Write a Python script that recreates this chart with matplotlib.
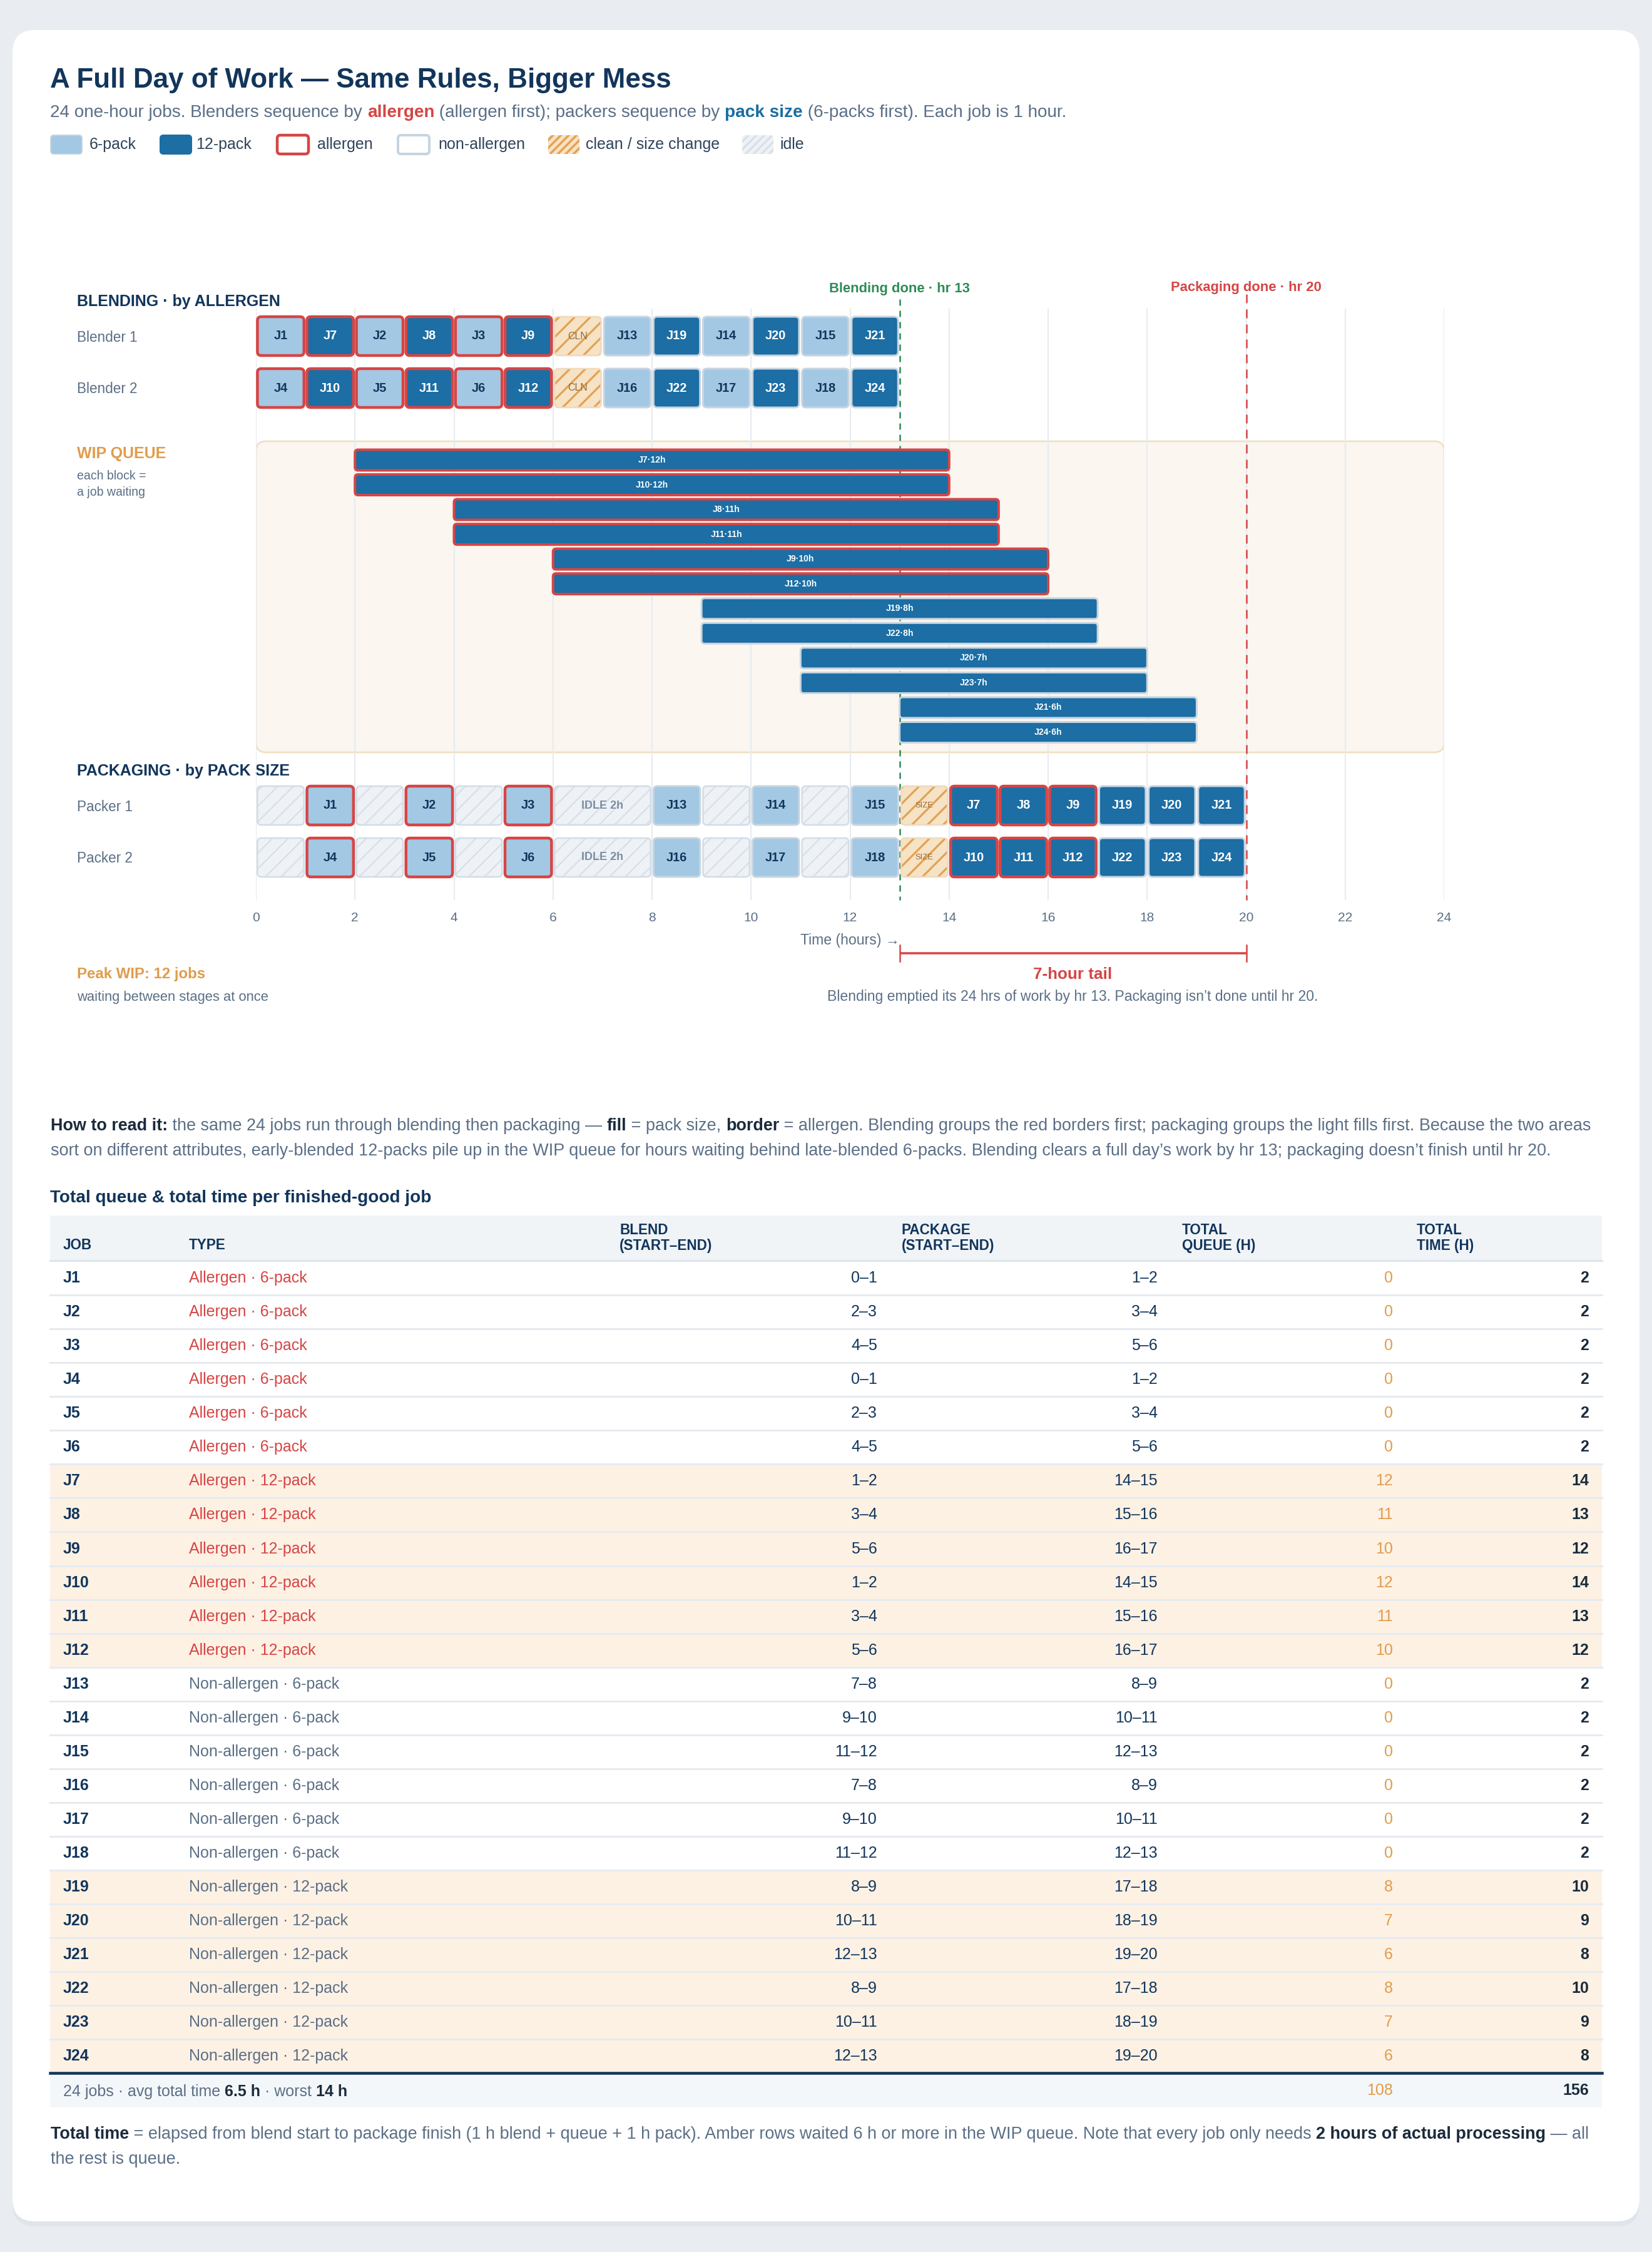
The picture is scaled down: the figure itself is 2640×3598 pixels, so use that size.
import matplotlib
matplotlib.use("Agg")
import matplotlib.pyplot as plt
from matplotlib.patches import FancyBboxPatch, Rectangle

plt.rcParams['font.family'] = ['Liberation Sans', 'DejaVu Sans']
plt.rcParams['lines.scale_dashes'] = False
plt.rcParams['hatch.linewidth'] = 1.2

# ---------------- data ----------------
jobs = ["J1", "J2", "J3", "J4", "J5", "J6", "J7", "J8", "J9", "J10", "J11", "J12",
        "J13", "J14", "J15", "J16", "J17", "J18", "J19", "J20", "J21", "J22", "J23", "J24"]
is_allergen = [True, True, True, True, True, True, True, True, True, True, True, True,
               False, False, False, False, False, False, False, False, False, False, False, False]
pack_size = [6, 6, 6, 6, 6, 6, 12, 12, 12, 12, 12, 12,
             6, 6, 6, 6, 6, 6, 12, 12, 12, 12, 12, 12]
line_no = [1, 1, 1, 2, 2, 2, 1, 1, 1, 2, 2, 2,
           1, 1, 1, 2, 2, 2, 1, 1, 1, 2, 2, 2]
blend_start = [0, 2, 4, 0, 2, 4, 1, 3, 5, 1, 3, 5,
               7, 9, 11, 7, 9, 11, 8, 10, 12, 8, 10, 12]
pack_start = [1, 3, 5, 1, 3, 5, 14, 15, 16, 14, 15, 16,
              8, 10, 12, 8, 10, 12, 17, 18, 19, 17, 18, 19]
queue_hours = [0, 0, 0, 0, 0, 0, 12, 11, 10, 12, 11, 10,
               0, 0, 0, 0, 0, 0, 8, 7, 6, 8, 7, 6]
total_hours = [2, 2, 2, 2, 2, 2, 14, 13, 12, 14, 13, 12,
               2, 2, 2, 2, 2, 2, 10, 9, 8, 10, 9, 8]

blend_clean_start = [6]
blend_clean_hours = [1]
pack_change_start = [13]
pack_change_hours = [1]
idle_start = [0, 2, 4, 6, 9, 11]
idle_hours = [1, 1, 1, 2, 1, 1]
wip_order = ["J7", "J10", "J8", "J11", "J9", "J12", "J19", "J22", "J20", "J23", "J21", "J24"]
blend_done_hr = 13
pack_done_hr = 20
x_ticks = [0, 2, 4, 6, 8, 10, 12, 14, 16, 18, 20, 22, 24]
peak_wip = 12

# ---------------- style ----------------
W, H, DPI = 2640, 3598, 150
def P(px):
    return px * 72.0 / DPI

NAVY = "#12355b"
DARK = "#1b2b3c"
GREY = "#5b6f86"
RED = "#d64545"
BLUE_D = "#1c6ea4"
BLUE_L = "#a3c8e4"
ORANGE = "#e09c4c"
GREEN = "#2e8b57"
EDGE = "#c8d5e1"
IDLE_FC = "#eef2f6"
IDLE_HATCH = "#d6dee7"
IDLE_EDGE = "#d3dce5"
CLN_FC = "#f6e2c4"
CLN_HATCH = "#e3a052"
CLN_EDGE = "#efdbbb"
AMBER_ROW = "#fdf1e4"

fig = plt.figure(figsize=(W / DPI, H / DPI), dpi=DPI)
fig.patch.set_facecolor("#e9edf1")
bg = fig.add_axes([0, 0, 1, 1])
bg.set_xlim(0, W)
bg.set_ylim(H, 0)
bg.axis("off")
renderer = fig.canvas.get_renderer()

# card
bg.add_patch(FancyBboxPatch((20, 56), 2600, 3501, boxstyle="round,pad=0,rounding_size=36",
                            fc="#dce2e8", ec="none", alpha=0.7, zorder=0))
bg.add_patch(FancyBboxPatch((20, 48), 2600, 3501, boxstyle="round,pad=0,rounding_size=36",
                            fc="white", ec="none", zorder=0.5))


def T(x, y, s, size, color, weight="normal", ha="left", va="center", ax=None, **kw):
    a = ax if ax is not None else bg
    return a.text(x, y, s, fontsize=P(size), color=color, fontweight=weight, ha=ha, va=va, **kw)


def adv(s, size, weight):
    t = bg.text(0, 0, s + "|", fontsize=P(size), fontweight=weight)
    w1 = t.get_window_extent(renderer).width
    t.set_text("|")
    w2 = t.get_window_extent(renderer).width
    t.remove()
    return w1 - w2


def rich_width(pieces, size):
    return sum(adv(s, size, w) for s, c, w in pieces)


def rich(x, yc, pieces, size):
    base = yc + 0.36 * size
    for s, c, w in pieces:
        bg.text(x, base, s, fontsize=P(size), color=c, fontweight=w, ha="left", va="baseline", zorder=5)
        x += adv(s, size, w)


def fit(pieces, size, target):
    return size * target / rich_width(pieces, size)


def set_hlw(p, lw):
    if hasattr(p, "set_hatch_linewidth"):
        try:
            p.set_hatch_linewidth(lw)
        except Exception:
            pass
    return p


# ---------------- header ----------------
title = [("A Full Day of Work — Same Rules, Bigger Mess", NAVY, "bold")]
rich(80, 124, title, fit(title, 39, 993))
sub = [("24 one-hour jobs. Blenders sequence by ", GREY, "normal"), ("allergen", RED, "bold"),
       (" (allergen first); packers sequence by ", GREY, "normal"), ("pack size", BLUE_D, "bold"),
       (" (6-packs first). Each job is 1 hour.", GREY, "normal")]
rich(80, 177, sub, fit(sub, 25, 1631))

# legend
def legend_swatch(x, fc, ec, lw, hatch=None, hc=None, hlw=1.2):
    kw = dict(boxstyle="round,pad=0,rounding_size=5")
    bg.add_patch(FancyBboxPatch((x, 216), 50, 30, fc=fc, ec="none", zorder=2, **kw))
    if hatch:
        bg.add_patch(set_hlw(FancyBboxPatch((x, 216), 50, 30, fill=False, ec=hc, lw=0, hatch=hatch,
                                            zorder=2.1, **kw), hlw))
    if ec:
        bg.add_patch(FancyBboxPatch((x, 216), 50, 30, fill=False, ec=ec, lw=P(lw), zorder=2.2, **kw))

LEG_TXT = "#2f4459"
LS = 25
legend_swatch(81, BLUE_L, "#c7d4df", 2)
T(143, 231, "6-pack", LS, LEG_TXT)
legend_swatch(256, BLUE_D, BLUE_D, 2)
T(313, 231, "12-pack", LS, LEG_TXT)
legend_swatch(443, "white", RED, 4.5)
T(507, 231, "allergen", LS, LEG_TXT)
legend_swatch(636, "white", "#c7d4df", 4)
T(700, 231, "non-allergen", LS, LEG_TXT)
legend_swatch(876, CLN_FC, None, 0, "////", CLN_HATCH, 1.6)
T(936, 231, "clean / size change", LS, LEG_TXT)
legend_swatch(1186, IDLE_FC, None, 0, "////", IDLE_HATCH, 1.4)
T(1246, 231, "idle", LS, LEG_TXT)

# ---------------- gantt ----------------
GX0, GX1 = 409, 2308
GTOP, GBOT = 493, 1438
PXH = (GX1 - GX0) / 24.0
ax = fig.add_axes([GX0 / W, 1 - GBOT / H, (GX1 - GX0) / W, (GBOT - GTOP) / H])
ax.set_xlim(0, 24)
ax.set_ylim(GBOT, GTOP)
ax.patch.set_visible(False)
for sp in ax.spines.values():
    sp.set_visible(False)
ax.set_yticks([])
ax.set_xticks(x_ticks)
ax.set_xticklabels([str(t) for t in x_ticks])
ax.tick_params(axis="x", length=0, pad=P(19), labelsize=P(21), labelcolor=GREY)
ax.vlines(x_ticks, GTOP, GBOT, color="#e7ecf1", lw=P(2.2), zorder=1.2)

blend_row_y = {1: 537, 2: 620}
pack_row_y = {1: 1287, 2: 1370}
ROW_H = 62


def gbox(x, w, yc, h, fc, ec=None, lw=0.0, r=6, hatch=None, hc=None, hlw=1.0, z=3, pad=0.03):
    xs, ws = x + pad, w - 2 * pad
    kw = dict(boxstyle="round,pad=0,rounding_size=%f" % (r / PXH), mutation_aspect=PXH)
    ax.add_patch(FancyBboxPatch((xs, yc - h / 2), ws, h, fc=fc, ec="none", lw=0, zorder=z, **kw))
    if hatch:
        ax.add_patch(set_hlw(FancyBboxPatch((xs, yc - h / 2), ws, h, fill=False, ec=hc, lw=0,
                                            hatch=hatch, zorder=z + 0.1, **kw), hlw))
    if ec:
        ax.add_patch(FancyBboxPatch((xs, yc - h / 2), ws, h, fill=False, ec=ec, lw=P(lw),
                                    zorder=z + 0.2, **kw))


# section labels
T(123, 482, "BLENDING · by ALLERGEN", 25, NAVY, "bold")
T(123, blend_row_y[1] + 2, "Blender 1", 22.5, GREY)
T(123, blend_row_y[2] + 2, "Blender 2", 22.5, GREY)
T(123, 725, "WIP QUEUE", 25, ORANGE, "bold")
T(123, 761, "each block =", 19.5, GREY)
T(123, 787, "a job waiting", 19.5, GREY)
T(123, 1232, "PACKAGING · by PACK SIZE", 25, NAVY, "bold")
T(123, pack_row_y[1] + 2, "Packer 1", 22.5, GREY)
T(123, pack_row_y[2] + 2, "Packer 2", 22.5, GREY)
T(123, 1557, "Peak WIP: %d jobs" % peak_wip, 24, ORANGE, "bold")
T(123, 1593, "waiting between stages at once", 22, GREY)


def job_block(i, x, yc):
    light = pack_size[i] == 6
    fc = BLUE_L if light else BLUE_D
    if is_allergen[i]:
        gbox(x, 1, yc, ROW_H, fc, RED, 4.5)
    else:
        gbox(x, 1, yc, ROW_H, fc, EDGE, 3.0)
    ax.text(x + 0.5, yc, jobs[i], fontsize=P(20), fontweight="bold",
            color=NAVY if light else "white", ha="center", va="center", zorder=6)


# blending rows
for i in range(len(jobs)):
    job_block(i, blend_start[i], blend_row_y[line_no[i]])
for ln in (1, 2):
    for s, d in zip(blend_clean_start, blend_clean_hours):
        gbox(s, d, blend_row_y[ln], ROW_H, CLN_FC, CLN_EDGE, 2.5, hatch="//", hc=CLN_HATCH, hlw=1.5)
        ax.text(s + d / 2, blend_row_y[ln], "CLN", fontsize=P(16), color="#8c6a3c",
                ha="center", va="center", zorder=6)

# packaging rows
for i in range(len(jobs)):
    job_block(i, pack_start[i], pack_row_y[line_no[i]])
for ln in (1, 2):
    for s, d in zip(idle_start, idle_hours):
        gbox(s, d, pack_row_y[ln], ROW_H, IDLE_FC, IDLE_EDGE, 2.5, hatch="//", hc=IDLE_HATCH, hlw=1.0)
        if d >= 2:
            ax.text(s + d / 2, pack_row_y[ln], "IDLE %dh" % d, fontsize=P(18), fontweight="bold",
                    color="#7d8da0", ha="center", va="center", zorder=6)
    for s, d in zip(pack_change_start, pack_change_hours):
        gbox(s, d, pack_row_y[ln], ROW_H, CLN_FC, CLN_EDGE, 2.5, hatch="//", hc=CLN_HATCH, hlw=1.5)
        ax.text(s + d / 2, pack_row_y[ln], "SIZE", fontsize=P(13), color="#9a6a30",
                ha="center", va="center", zorder=6)

# WIP queue box
WIP_TOP, WIP_BOT = 705, 1202
ax.add_patch(FancyBboxPatch((0, WIP_TOP), 24, WIP_BOT - WIP_TOP,
                            boxstyle="round,pad=0,rounding_size=%f" % (16 / PXH),
                            mutation_aspect=PXH, fc="#fbf6ef", ec="#efdec2", lw=P(2.5), zorder=1))
WIP_Y0, WIP_DY, WIP_H = 735, 39.55, 33
for k, jn in enumerate(wip_order):
    i = jobs.index(jn)
    x0 = blend_start[i] + 1
    x1 = pack_start[i]
    yc = WIP_Y0 + k * WIP_DY
    if is_allergen[i]:
        gbox(x0, x1 - x0, yc, WIP_H, BLUE_D, RED, 4.0, r=5, pad=0.0)
    else:
        gbox(x0, x1 - x0, yc, WIP_H, BLUE_D, EDGE, 3.0, r=5, pad=0.0)
    ax.text((x0 + x1) / 2, yc, "%s·%dh" % (jn, queue_hours[i]), fontsize=P(14),
            fontweight="bold", color="white", ha="center", va="center", zorder=6)

# done lines
ax.plot([blend_done_hr, blend_done_hr], [478, GBOT], color=GREEN, lw=P(2.5),
        ls=(0, (P(10), P(8))), zorder=1.6, clip_on=False)
ax.plot([pack_done_hr, pack_done_hr], [470, GBOT], color=RED, lw=P(2.5),
        ls=(0, (P(14), P(10))), zorder=1.6, clip_on=False)
ax.text(blend_done_hr, 461, "Blending done · hr %d" % blend_done_hr, fontsize=P(22),
        fontweight="bold", color=GREEN, ha="center", va="center", clip_on=False)
ax.text(pack_done_hr, 460, "Packaging done · hr %d" % pack_done_hr, fontsize=P(22),
        fontweight="bold", color=RED, ha="center", va="center", clip_on=False)

# axis label & tail bracket
ax.text(12, 1502, "Time (hours) →", fontsize=P(23), color=GREY, ha="center", va="center", clip_on=False)
ax.plot([blend_done_hr, pack_done_hr], [1523, 1523], color=RED, lw=P(3.5), clip_on=False,
        solid_capstyle="butt")
for xx in (blend_done_hr, pack_done_hr):
    ax.plot([xx, xx], [1510, 1536], color=RED, lw=P(2.5), clip_on=False)
mid = (blend_done_hr + pack_done_hr) / 2
ax.text(mid, 1557, "%d-hour tail" % (pack_done_hr - blend_done_hr), fontsize=P(26),
        fontweight="bold", color=RED, ha="center", va="center", clip_on=False)
ax.text(mid, 1593, "Blending emptied its 24 hrs of work by hr 13. Packaging isn’t done until hr 20.",
        fontsize=P(23), color=GREY, ha="center", va="center", clip_on=False)

# ---------------- paragraph ----------------
para1 = [("How to read it:", DARK, "bold"),
         (" the same 24 jobs run through blending then packaging — ", GREY, "normal"),
         ("fill", DARK, "bold"), (" = pack size, ", GREY, "normal"), ("border", DARK, "bold"),
         (" = allergen. Blending groups the red borders first; packaging groups the light fills first. Because the two areas",
          GREY, "normal")]
para2 = [("sort on different attributes, early-blended 12-packs pile up in the WIP queue for hours waiting behind late-blended 6-packs. Blending clears a full day’s work by hr 13; packaging doesn’t finish until hr 20.",
          GREY, "normal")]
psz = fit(para1, 25, 2458)
rich(81, 1796, para1, psz)
rich(81, 1836, para2, psz)

# ---------------- table ----------------
tt = [("Total queue & total time per finished-good job", NAVY, "bold")]
rich(80, 1911, tt, fit(tt, 28, 608))

TX0, TX1 = 80, 2560
HDR_TOP, HDR_BOT = 1942, 2014
ROW_TOP0, ROW_HT = 2015, 54.06
col_job, col_type = 101, 302
col_blend_h, col_blend_r = 990, 1402
col_pack_h, col_pack_r = 1441, 1850
col_q_h, col_q_r = 1889, 2226
col_t_h, col_t_r = 2264, 2539

bg.add_patch(Rectangle((TX0, HDR_TOP), TX1 - TX0, HDR_BOT - HDR_TOP, fc="#f0f4f7", ec="none", zorder=1))
bg.plot([TX0, TX1], [HDR_BOT, HDR_BOT], color="#dce4eb", lw=P(3), zorder=2)
HS = 22.5
T(col_job, 1990, "JOB", HS, NAVY, "bold")
T(col_type, 1990, "TYPE", HS, NAVY, "bold")
T(col_blend_h, 1965, "BLEND", HS, NAVY, "bold")
T(col_blend_h, 1990, "(START–END)", HS, NAVY, "bold")
T(col_pack_h, 1965, "PACKAGE", HS, NAVY, "bold")
T(col_pack_h, 1990, "(START–END)", HS, NAVY, "bold")
T(col_q_h, 1965, "TOTAL", HS, NAVY, "bold")
T(col_q_h, 1990, "QUEUE (H)", HS, NAVY, "bold")
T(col_t_h, 1965, "TOTAL", HS, NAVY, "bold")
T(col_t_h, 1990, "TIME (H)", HS, NAVY, "bold")

BS = 25
n = len(jobs)
for i in range(n):
    top = ROW_TOP0 + i * ROW_HT
    yc = top + ROW_HT / 2
    if queue_hours[i] >= 6:
        bg.add_patch(Rectangle((TX0, top), TX1 - TX0, ROW_HT, fc=AMBER_ROW, ec="none", zorder=1))
    if i < n - 1:
        bg.plot([TX0, TX1], [top + ROW_HT, top + ROW_HT], color="#e6ebf0", lw=P(3), zorder=2)
    T(col_job, yc, jobs[i], BS, NAVY, "bold")
    typ = ("Allergen" if is_allergen[i] else "Non-allergen") + " · %d-pack" % pack_size[i]
    T(col_type, yc, typ, BS, RED if is_allergen[i] else GREY)
    T(col_blend_r, yc, "%d–%d" % (blend_start[i], blend_start[i] + 1), BS, NAVY, ha="right")
    T(col_pack_r, yc, "%d–%d" % (pack_start[i], pack_start[i] + 1), BS, NAVY, ha="right")
    T(col_q_r, yc, str(queue_hours[i]), BS, ORANGE, ha="right")
    T(col_t_r, yc, str(total_hours[i]), BS, DARK, "bold", ha="right")

foot_top = ROW_TOP0 + n * ROW_HT
bg.add_patch(Rectangle((TX0, foot_top + 2), TX1 - TX0, 53, fc="#f4f7fa", ec="none", zorder=1))
bg.plot([TX0, TX1], [foot_top, foot_top], color=NAVY, lw=P(4.5), zorder=3)
fy = foot_top + 28
avg_t = sum(total_hours) / n
worst = max(total_hours)
foot = [("%d jobs · avg total time " % n, GREY, "normal"), ("%.1f h" % avg_t, DARK, "bold"),
        (" · worst ", GREY, "normal"), ("%d h" % worst, DARK, "bold")]
rich(101, fy, foot, 25)
T(col_q_r, fy, str(sum(queue_hours)), BS, ORANGE, ha="right")
T(col_t_r, fy, str(sum(total_hours)), BS, DARK, "bold", ha="right")

# footnote
fn1 = [("Total time", DARK, "bold"),
       (" = elapsed from blend start to package finish (1 h blend + queue + 1 h pack). Amber rows waited 6 h or more in the WIP queue. Note that every job only needs ",
        GREY, "normal"),
       ("2 hours of actual processing", DARK, "bold"), (" — all", GREY, "normal")]
fn2 = [("the rest is queue.", GREY, "normal")]
fsz = fit(fn1, 25, 2458)
rich(81, 3407, fn1, fsz)
rich(81, 3447, fn2, fsz)

fig.savefig("out.png", dpi=DPI, facecolor=fig.get_facecolor())
